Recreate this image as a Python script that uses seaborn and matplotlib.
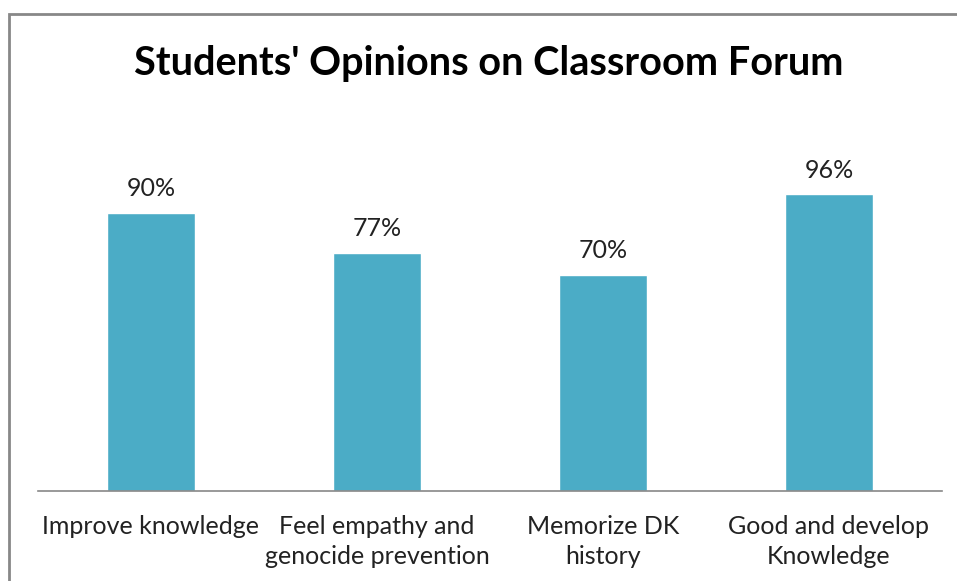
import matplotlib
matplotlib.use("Agg")
import matplotlib.pyplot as plt
import seaborn as sns
import pandas as pd
from matplotlib.patches import Rectangle

categories = ["Improve knowledge", "Feel empathy and\ngenocide prevention", "Memorize DK\nhistory", "Good and develop\nKnowledge"]
values = [90, 77, 70, 96]
value_labels = ["90%", "77%", "70%", "96%"]
title = "Students' Opinions on Classroom Forum"

sns.set_theme(style="white")
plt.rcParams['font.family'] = ['Lato', 'DejaVu Sans']

df = pd.DataFrame({"cat": categories, "val": values})

fig = plt.figure(figsize=(9.57, 5.81), dpi=100)
ax = fig.add_axes([38/957, 1-491/581, 904/957, (491-120)/581])
sns.barplot(data=df, x="cat", y="val", color="#4BACC6", width=0.39, ax=ax, saturation=1)
ax.set_ylim(0, 120)
ax.set_xlim(-0.5, 3.5)
for i, (v, lab) in enumerate(zip(values, value_labels)):
    ax.annotate(lab, (i, v), xytext=(0, 9), textcoords="offset points",
                ha="center", va="bottom", fontsize=18, color="#222222")
for s in ["top", "right", "left"]:
    ax.spines[s].set_visible(False)
ax.spines["bottom"].set_color("#888888")
ax.spines["bottom"].set_linewidth(1.2)
ax.set_yticks([])
ax.set_xlabel("")
ax.set_ylabel("")
ax.tick_params(axis="x", length=0, pad=17, labelsize=18, labelcolor="#222222")
for t in ax.get_xticklabels():
    t.set_linespacing(1.4)
fig.text(489/957, 1-63/581, title, ha="center", va="center", fontsize=28.5, fontweight="bold", color="black")
fig.patches.append(Rectangle((9/957, -0.1), 1.1, 1-14/581+0.1, transform=fig.transFigure,
                             fill=False, edgecolor="#888888", linewidth=2))
fig.savefig("out.png", dpi=100)
